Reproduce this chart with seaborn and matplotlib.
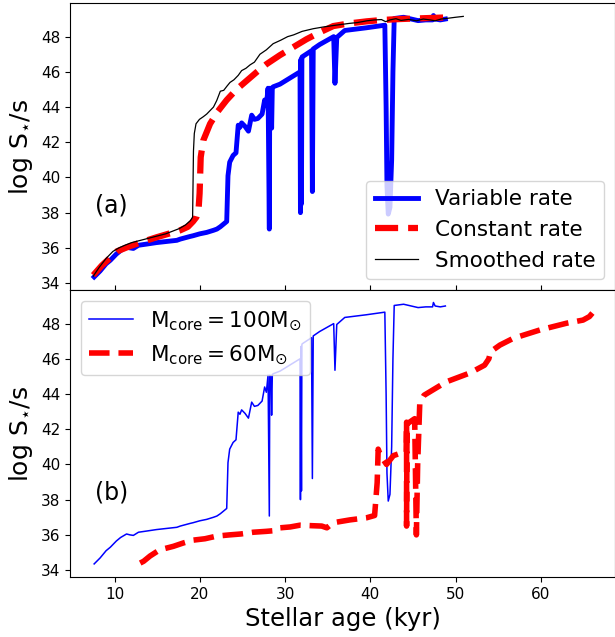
import matplotlib
matplotlib.use("Agg")
import matplotlib.pyplot as plt
import seaborn as sns

# variable accretion rate (also the Mcore = 100 Msun run)
var_age = [7.6, 8.3, 9.0, 9.5, 10.2, 10.7, 11.4, 11.8, 12.2, 12.8, 13.8, 14.9, 16.0, 17.3, 17.7,
           18.85, 19.2, 20.0, 20.8, 21.6, 22.0, 22.4, 23.15, 23.3, 23.5, 23.9, 24.24, 24.5, 24.7,
           24.9, 25.3, 25.7, 26.08, 26.4, 26.8, 27.3, 27.6, 27.8, 28.0, 28.15, 28.2, 28.35,
           28.42, 28.5, 28.6, 29.4, 31.75, 31.8, 31.85, 31.92, 31.97, 32.0, 33.1, 33.2, 33.3,
           34.05, 35.7, 35.85, 36.06, 37.0, 39.5, 41.7, 41.85, 41.95, 42.1, 42.3, 42.5, 42.65,
           42.8, 43.9, 45.6, 46.5, 47.3, 47.4, 47.6, 48.2, 48.8]
var_logS = [34.35, 34.69, 35.1, 35.3, 35.65, 35.85, 36.05, 36.0, 35.97, 36.15, 36.22, 36.3, 36.36,
            36.43, 36.5, 36.65, 36.69, 36.8, 36.88, 37.0, 37.07, 37.2, 37.5, 40.1, 40.87,
            41.25, 41.4, 42.97, 42.85, 43.1, 42.9, 42.63, 43.54, 43.3, 43.35, 43.6, 44.4, 44.1,
            45.07, 37.07, 45.07, 45.0, 42.8, 45.1, 45.15, 45.3, 46.0, 38.0, 46.7, 38.5, 46.8,
            46.85, 47.2, 39.2, 47.3, 47.55, 48.0, 45.35, 47.95, 48.35, 48.5, 48.65, 44.0, 39.5,
            37.92, 38.3, 41.0, 46.0, 49.03, 49.1, 48.91, 48.95, 48.95, 49.2, 49.0, 48.95, 49.0]

const_age = [7.5, 8.5, 9.5, 10.25, 11.8, 13.3, 14.9, 16.3, 17.7, 18.6, 19.2, 19.6, 19.85, 19.97,
             20.1, 20.4, 21.2, 22.1, 23.15, 24.3, 25.5, 26.7, 27.85, 29.4, 30.95, 32.5, 34.1,
             35.65, 37.5, 39.6, 41.5, 43.5, 46.5, 49.5]
const_logS = [34.45, 35.0, 35.45, 35.8, 36.1, 36.35, 36.6, 36.8, 37.0, 37.2, 37.5, 37.75, 38.2,
              39.1, 41.15, 42.1, 43.05, 43.75, 44.4, 45.0, 45.5, 46.0, 46.45, 46.95, 47.4, 47.85,
              48.25, 48.6, 48.75, 48.87, 48.95, 49.0, 49.05, 49.1]

smooth_age = [7.5, 8.2, 9.0, 9.8, 10.5, 11.2, 12.0, 12.8, 13.6, 14.4, 15.2, 16.0, 16.8, 17.6,
              18.3, 18.9, 19.15, 19.25, 19.35, 19.55, 19.95, 20.4, 20.8, 21.2, 21.6, 21.98, 22.4,
              22.8, 23.2, 23.54, 24.0, 24.5, 24.9, 25.4, 25.9, 26.4, 27.05, 27.8, 28.6, 29.5,
              30.3, 31.0, 32.0, 33.3, 34.5, 35.5, 36.4, 37.5, 38.5, 39.6, 40.5, 41.3, 41.8,
              42.3, 43.0, 43.6, 44.5, 45.4, 46.2, 47.0, 47.6, 48.3, 49.2, 50.0, 50.9]
smooth_logS = [34.4, 34.9, 35.4, 35.8, 36.0, 36.15, 36.3, 36.4, 36.5, 36.6, 36.7, 36.8, 36.95,
               37.1, 37.3, 37.55, 37.75, 41.5, 42.5, 43.05, 43.3, 43.45, 43.6, 43.8, 44.0, 44.37,
               44.9, 44.95, 45.2, 45.4, 45.55, 45.8, 46.07, 46.2, 46.4, 46.55, 47.0, 47.25, 47.6,
               47.8, 48.0, 48.1, 48.3, 48.45, 48.55, 48.62, 48.68, 48.75, 48.8, 48.9, 48.95,
               48.97, 48.85, 48.95, 49.02, 48.92, 48.98, 48.9, 49.0, 48.95, 48.9, 49.0, 49.05,
               49.1, 49.15]

m60_age = [13.0, 13.4, 14.16, 14.8, 15.33, 16.1, 16.9, 18.06, 19.2, 20.6, 21.98, 23.5, 24.8,
           26.27, 27.8, 29.0, 29.4, 30.6, 31.75, 33.2, 34.3, 34.9, 35.65, 37.6, 39.55, 40.5,
           40.8, 40.92, 41.2, 41.9, 42.7, 43.3, 44.2, 44.25, 44.25, 44.3, 45.2, 45.4, 45.55,
           45.8, 46.3, 48.9, 51.7, 53.4, 53.9, 54.1, 55.2, 56.75, 59.9, 63.0, 64.95, 65.7, 66.05]
m60_logS = [34.4, 34.5, 34.8, 35.0, 35.16, 35.25, 35.35, 35.54, 35.7, 35.78, 35.93, 36.0, 36.05,
            36.15, 36.2, 36.25, 36.4, 36.45, 36.55, 36.52, 36.5, 36.4, 36.69, 36.85, 36.97,
            37.1, 38.97, 40.87, 40.5, 40.0, 40.5, 40.6, 40.7, 42.4, 36.5, 42.3, 42.6, 36.0,
            40.0, 43.5, 43.93, 44.69, 45.2, 45.64, 46.0, 46.4, 46.78, 47.16, 47.64, 48.02, 48.2,
            48.4, 48.6]

fig, (ax1, ax2) = plt.subplots(2, 1, figsize=(6.15, 6.37), dpi=100, sharex=True, sharey=True)
fig.subplots_adjust(left=0.114, right=1.0, top=0.995, bottom=0.094, hspace=0)

sns.lineplot(x=var_age, y=var_logS, ax=ax1, sort=False, estimator=None, color="b",
             lw=3.5, label="Variable rate")
sns.lineplot(x=const_age, y=const_logS, ax=ax1, sort=False, estimator=None, color="r",
             lw=4.5, linestyle="--", label="Constant rate")
sns.lineplot(x=smooth_age, y=smooth_logS, ax=ax1, sort=False, estimator=None, color="k",
             lw=0.9, label="Smoothed rate")
ax1.legend(loc="lower right", fontsize=15.5)
ax1.text(0.045, 0.295, "(a)", transform=ax1.transAxes, fontsize=17, va="center")

sns.lineplot(x=var_age, y=var_logS, ax=ax2, sort=False, estimator=None, color="b",
             lw=1.1, label=r"$\mathrm{M_{core}=100M_{\odot}}$")
sns.lineplot(x=m60_age, y=m60_logS, ax=ax2, sort=False, estimator=None, color="r",
             lw=4, linestyle="--", label=r"$\mathrm{M_{core}=60M_{\odot}}$")
ax2.legend(loc="upper left", fontsize=15.5)
ax2.text(0.045, 0.295, "(b)", transform=ax2.transAxes, fontsize=17, va="center")

ax1.set_xlim(4.78, 68.7)
ax1.set_ylim(33.6, 49.9)
ax1.set_yticks(range(34, 50, 2))
for ax in (ax1, ax2):
    ax.set_ylabel(r"log S$_{\star}$/s", fontsize=18)
    ax.tick_params(labelsize=11)
ax1.tick_params(axis="x", direction="in")
ax2.set_xlabel("Stellar age (kyr)", fontsize=17.5)

fig.savefig("out.png", dpi=100)
